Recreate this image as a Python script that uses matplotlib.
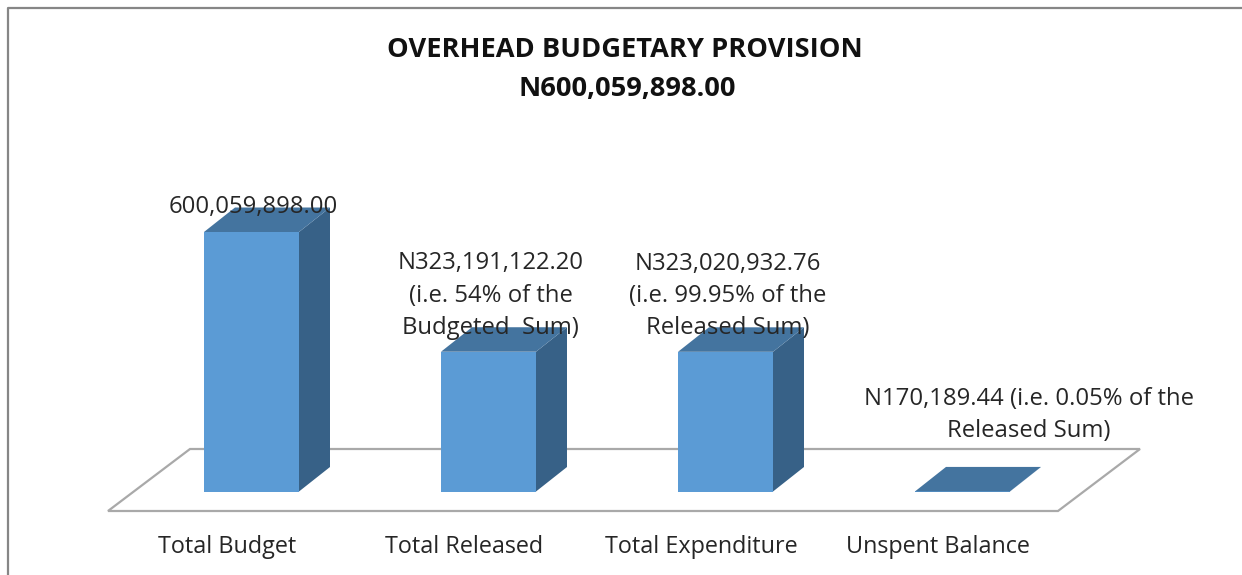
import matplotlib
matplotlib.use("Agg")
import matplotlib.pyplot as plt
from matplotlib.patches import Polygon
from matplotlib.lines import Line2D

categories = ["Total Budget", "Total Released", "Total Expenditure", "Unspent Balance"]
values = [600059898.00, 323191122.20, 323020932.76, 170189.44]
value_labels = [
    "600,059,898.00",
    "N323,191,122.20\n(i.e. 54% of the\nBudgeted  Sum)",
    "N323,020,932.76\n(i.e. 99.95% of the\nReleased Sum)",
    "N170,189.44 (i.e. 0.05% of the\nReleased Sum)",
]
title_lines = ["OVERHEAD BUDGETARY PROVISION", "N600,059,898.00"]

label_offsets = [(1.5, 24.5), (2, 56), (2.5, 56), (66, 76.5)]

W, H = 1242, 575
PX_X0, PX_DX = 251.5, 237.0
PX_Y0 = 491.5
PX_PER_VAL = (491.5 - 232.0) / values[0]

FRONT, TOP, SIDE = "#5b9bd5", "#44749f", "#376187"
FLOOR = "#a9a9a9"
FRAME = "#868686"
TEXT = "#262626"
FONT = "Open Sans"
FS_VAL = 17.2
FS_CAT = 16.8

fig = plt.figure(figsize=(W / 100, H / 100), dpi=100, facecolor="white")
ax = fig.add_axes([0, 0, 1, 1])
ax.set_xlim((0 - PX_X0) / PX_DX, (W - PX_X0) / PX_DX)
ax.set_ylim((PX_Y0 - H) / PX_PER_VAL, PX_Y0 / PX_PER_VAL)
ax.axis("off")

dx = 31 / PX_DX
dy = 24.5 / PX_PER_VAL
hw = 47.5 / PX_DX

# floor
fl_l, fl_r = (108 - PX_X0) / PX_DX, (1058 - PX_X0) / PX_DX
fl_y = (PX_Y0 - 511) / PX_PER_VAL
fl_dx = 82 / PX_DX
fl_dy = 62 / PX_PER_VAL
ax.add_patch(Polygon([(fl_l, fl_y), (fl_r, fl_y), (fl_r + fl_dx, fl_y + fl_dy), (fl_l + fl_dx, fl_y + fl_dy)],
                     closed=True, fc="white", ec=FLOOR, lw=1.6, zorder=1))

# bars
for i, v in enumerate(values):
    l, r = i - hw, i + hw
    ax.bar(i, v, width=2 * hw, color=FRONT, zorder=3, linewidth=0)
    ax.add_patch(Polygon([(r, 0), (r + dx, dy), (r + dx, v + dy), (r, v)], closed=True, fc=SIDE, ec="none", zorder=2))
    ax.add_patch(Polygon([(l, v), (r, v), (r + dx, v + dy), (l + dx, v + dy)], closed=True, fc=TOP, ec="none", zorder=4))

# labels
for i, (v, s, off) in enumerate(zip(values, value_labels, label_offsets)):
    ax.annotate(s, xy=(i, v), xytext=off, textcoords="offset pixels", ha="center", va="center",
                fontsize=FS_VAL, family=FONT, color=TEXT, linespacing=1.46, zorder=6)

for i, c in enumerate(categories):
    ax.annotate(c, xy=(i, fl_y), xytext=(-24.5, -36), textcoords="offset pixels", ha="center", va="center",
                fontsize=FS_CAT, family=FONT, color=TEXT, zorder=6)

# title
for s, px, py in zip(title_lines, (625, 627), (50, 89)):
    fig.text(px / W, 1 - py / H, s, ha="center", va="center", fontsize=19.6, fontweight="bold",
             family=FONT, color="#111111")

# frame
fig.add_artist(Line2D([8 / W, 8 / W, 1241 / W], [0, 1 - 8 / H, 1 - 8 / H], color=FRAME, lw=1.6, zorder=10))

fig.savefig("out.png", dpi=100, facecolor="white")
